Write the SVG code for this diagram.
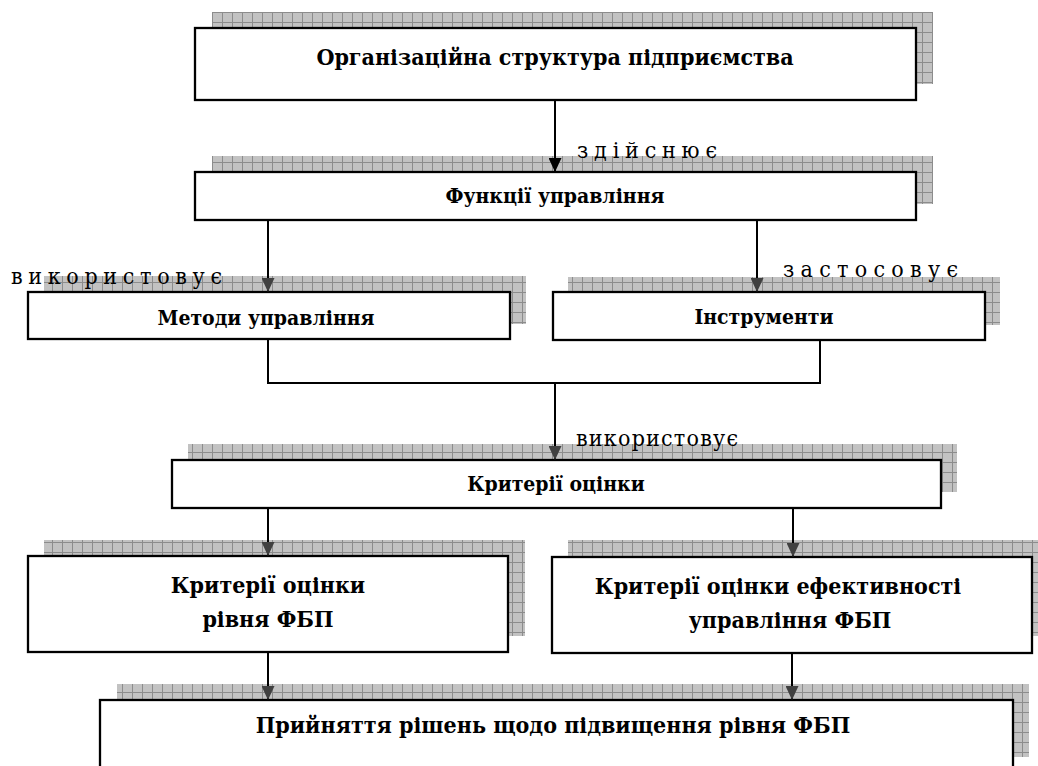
<svg xmlns="http://www.w3.org/2000/svg" width="1038" height="766" viewBox="0 0 1038 766">
<defs>
<pattern id="grid" width="10" height="10" patternUnits="userSpaceOnUse" x="2" y="2">
<rect width="10" height="10" fill="#c2c2c2"/>
<path d="M0 0.5H10M0.5 0V10" stroke="#8c8c8c" stroke-width="1" fill="none"/>
</pattern>
<marker id="ahb" markerWidth="14" markerHeight="13" refX="14" refY="6.5" orient="auto" markerUnits="userSpaceOnUse">
<path d="M0,0 L14,6.5 L0,13 z" fill="#000"/>
</marker>
<marker id="ahg" markerWidth="14" markerHeight="13" refX="14" refY="6.5" orient="auto" markerUnits="userSpaceOnUse">
<path d="M0,0 L14,6.5 L0,13 z" fill="#404040"/>
</marker>
</defs>
<style>
.sh{fill:url(#grid);stroke:none}
.bx{fill:#fff;stroke:#000;stroke-width:2.3}
.t{font-family:'DejaVu Serif Condensed','DejaVu Serif',serif;font-weight:bold;fill:#000;text-anchor:middle}
.big{font-size:23px}
.sm{font-size:21px}
.lb{font-family:'DejaVu Serif Condensed','DejaVu Serif',serif;font-size:23px;fill:#000}
.ln{stroke:#000;stroke-width:2;fill:none}
</style>

<g id="node-org">
<rect class="sh" x="212" y="12" width="721" height="72"/>
<rect class="bx" x="195" y="28" width="721" height="72"/>
<text class="t big" x="555" y="65">Організаційна структура підприємства</text>
</g>
<g id="node-functions">
<rect class="sh" x="212" y="156" width="721" height="48"/>
<rect class="bx" x="195" y="172" width="721" height="48"/>
<text class="t sm" x="555" y="203">Функції управління</text>
</g>
<g id="node-methods">
<rect class="sh" x="44" y="276" width="482" height="48"/>
<rect class="bx" x="28" y="292" width="482" height="47"/>
<text class="t sm" x="266" y="325">Методи управління</text>
</g>
<g id="node-tools">
<rect class="sh" x="568" y="277" width="432" height="48"/>
<rect class="bx" x="553" y="292" width="432" height="48"/>
<text class="t sm" x="764" y="324">Інструменти</text>
</g>
<g id="node-criteria">
<rect class="sh" x="188" y="444" width="769" height="48"/>
<rect class="bx" x="172" y="460" width="769" height="48"/>
<text class="t sm" x="556" y="491">Критерії оцінки</text>
</g>
<g id="node-criteria-level">
<rect class="sh" x="44" y="540" width="481" height="96"/>
<rect class="bx" x="28" y="556" width="480" height="96"/>
<text class="t big" x="268" y="593">Критерії оцінки</text>
<text class="t big" x="268" y="627">рівня ФБП</text>
</g>
<g id="node-criteria-eff">
<rect class="sh" x="568" y="540" width="480" height="96"/>
<rect class="bx" x="552" y="557" width="480" height="96"/>
<text class="t big" x="778" y="594">Критерії оцінки ефективності</text>
<text class="t big" x="790" y="628">управління ФБП</text>
</g>
<g id="node-decision">
<rect class="sh" x="117" y="684" width="912" height="73"/>
<rect class="bx" x="100" y="700" width="913" height="73"/>
<text class="t big" x="553" y="733">Прийняття рішень щодо підвищення рівня ФБП</text>
</g>

<g id="connectors">
<line class="ln" x1="555" y1="100" x2="555" y2="172" marker-end="url(#ahb)"/>
<line class="ln" x1="268" y1="220" x2="268" y2="292" marker-end="url(#ahg)"/>
<line class="ln" x1="757" y1="220" x2="757" y2="292" marker-end="url(#ahg)"/>
<polyline class="ln" points="268,339 268,383 820,383 820,340"/>
<line class="ln" x1="555" y1="383" x2="555" y2="460" marker-end="url(#ahg)"/>
<line class="ln" x1="268" y1="508" x2="268" y2="556" marker-end="url(#ahg)"/>
<line class="ln" x1="793" y1="508" x2="793" y2="557" marker-end="url(#ahg)"/>
<line class="ln" x1="268" y1="652" x2="268" y2="700" marker-end="url(#ahg)"/>
<line class="ln" x1="792" y1="653" x2="792" y2="700" marker-end="url(#ahg)"/>
<text class="lb" x="577" y="158" textLength="140" lengthAdjust="spacing">здійснює</text>
<text class="lb" x="11" y="284" textLength="211" lengthAdjust="spacing">використовує</text>
<text class="lb" x="783" y="277" textLength="175" lengthAdjust="spacing">застосовує</text>
<text class="lb" x="576" y="446" textLength="162" lengthAdjust="spacing">використовує</text>
</g>
</svg>
